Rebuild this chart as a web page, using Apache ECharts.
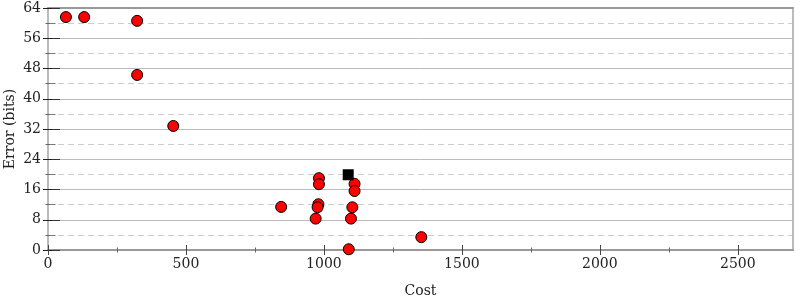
<!DOCTYPE html>
<html>
<head>
<meta charset="utf-8">
<script src="https://cdn.jsdelivr.net/npm/echarts@6/dist/echarts.min.js"></script>
<style>html,body{margin:0;padding:0;background:#fff}#c{width:800px;height:300px}</style>
</head>
<body>
<div id="c"></div>
<script>
// Data
const pointCost  = [65, 131, 323, 323, 454, 845, 982, 982, 980, 977, 970, 1111, 1111, 1103, 1098, 1090, 1353];
const pointError = [61.6, 61.6, 60.6, 46.3, 32.8, 11.4, 19.0, 17.4, 12.1, 11.3, 8.3, 17.5, 15.6, 11.3, 8.3, 0.2, 3.4];
const bestCost  = [1088];
const bestError = [19.9];
const xMajorTicks = [0, 500, 1000, 1500, 2000, 2500];
const xMinorTicks = [250, 750, 1250, 1750, 2250];
const yMajorTicks = [0, 8, 16, 24, 32, 40, 48, 56, 64];
const yMinorTicks = [4, 12, 20, 28, 36, 44, 52, 60];
const xName = 'Cost';
const yName = 'Error (bits)';

const FONT = 'DejaVu Serif';
const FS = 14;
const X_MAX = 2700, Y_MAX = 64;

function xAx(extra) {
  return Object.assign({
    type: 'value', min: 0, max: X_MAX, interval: 500, position: 'bottom',
    axisLine: {show: false}, axisTick: {show: false}, axisLabel: {show: false},
    splitLine: {show: false}
  }, extra);
}
function yAx(extra) {
  return Object.assign({
    type: 'value', min: 0, max: Y_MAX, interval: 8, position: 'left',
    axisLine: {show: false}, axisTick: {show: false}, axisLabel: {show: false},
    splitLine: {show: false}
  }, extra);
}

const chart = echarts.init(document.getElementById('c'), null, {renderer: 'canvas'});
chart.setOption({
  animation: false,
  backgroundColor: '#fff',
  grid: {left: 48, right: 7, top: 8, bottom: 50, containLabel: false, outerBoundsMode: 'none'},
  xAxis: [
    xAx({
      axisLine: {show: true, onZero: false, lineStyle: {color: '#999', width: 2}},
      axisLabel: {show: true, customValues: xMajorTicks, formatter: v => String(v), color: '#222', fontFamily: FONT, fontSize: FS, margin: 7},
      name: xName, nameLocation: 'middle', nameGap: 34, nameMoveOverlap: false,
      nameTextStyle: {color: '#222', fontFamily: FONT, fontSize: FS}
    }),
    xAx({offset: -5, axisTick: {show: true, customValues: xMajorTicks, length: 10, lineStyle: {color: '#444', width: 1}}}),
    xAx({offset: -2.5, axisTick: {show: true, customValues: xMinorTicks, length: 5, lineStyle: {color: '#666', width: 1}}}),
    xAx({position: 'top', axisLine: {show: true, onZero: false, lineStyle: {color: '#999', width: 2}}})
  ],
  yAxis: [
    yAx({
      axisLine: {show: true, onZero: false, lineStyle: {color: '#bbb', width: 2}},
      axisLabel: {show: true, customValues: yMajorTicks, formatter: v => String(v), color: '#222', fontFamily: FONT, fontSize: FS, margin: 7},
      splitLine: {show: true, lineStyle: {color: '#bbb', width: 1}},
      minorTick: {show: false, splitNumber: 2},
      minorSplitLine: {show: true, lineStyle: {color: '#ccc', width: 1, type: [6, 4]}},
      name: yName, nameLocation: 'middle', nameGap: 31, nameMoveOverlap: false,
      nameTextStyle: {color: '#222', fontFamily: FONT, fontSize: FS}
    }),
    yAx({offset: -5, axisTick: {show: true, customValues: yMajorTicks, length: 10, lineStyle: {color: '#222', width: 1}}}),
    yAx({offset: -2.5, axisTick: {show: true, customValues: yMinorTicks, length: 5, lineStyle: {color: '#666', width: 1}}}),
    yAx({position: 'right', axisLine: {show: true, onZero: false, lineStyle: {color: '#bbb', width: 2}}}),
    yAx({position: 'right', offset: -4, axisTick: {show: true, customValues: yMajorTicks, length: 8, lineStyle: {color: '#333', width: 1}}}),
    yAx({position: 'right', offset: -2.5, axisTick: {show: true, customValues: yMinorTicks, length: 5, lineStyle: {color: '#777', width: 1}}})
  ],
  series: [
    {
      type: 'scatter', xAxisIndex: 0, yAxisIndex: 0, z: 5,
      symbol: 'circle', symbolSize: 11,
      itemStyle: {color: '#ff0000', borderColor: '#000', borderWidth: 1, opacity: 1},
      data: pointCost.map((c, i) => [c, pointError[i]])
    },
    {
      type: 'scatter', xAxisIndex: 0, yAxisIndex: 0, z: 6,
      symbol: 'rect', symbolSize: 11,
      itemStyle: {color: '#000', opacity: 1},
      data: bestCost.map((c, i) => [c, bestError[i]])
    }
  ]
});
</script>
</body>
</html>
